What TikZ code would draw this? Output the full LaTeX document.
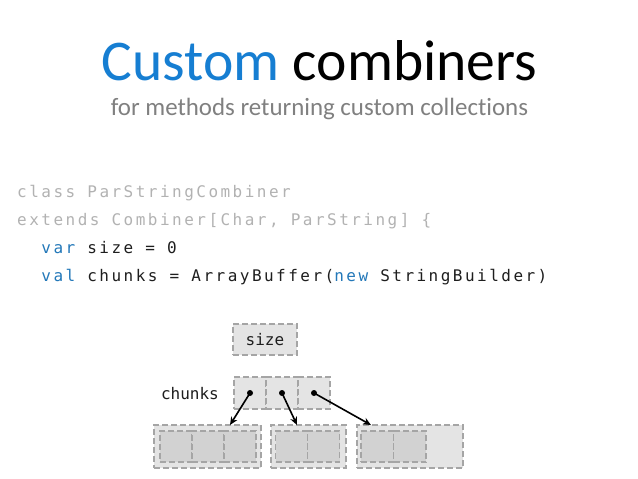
\documentclass[tikz,border=0pt]{standalone}
\usepackage{fontspec}
\setmainfont{Carlito}[Ligatures=NoCommon]
\newfontfamily\codefont{DejaVu Sans Mono}[LetterSpace=15.5]
\newfontfamily\diagfont{DejaVu Sans Mono}
\usetikzlibrary{arrows.meta}
\definecolor{titleblue}{RGB}{22,126,210}
\definecolor{subgray}{RGB}{128,128,128}
\definecolor{codegray}{RGB}{178,178,178}
\definecolor{kwblue}{RGB}{35,120,185}
\definecolor{codeblack}{RGB}{30,30,30}
\definecolor{boxfill}{RGB}{228,228,228}
\definecolor{cellfill}{RGB}{210,210,210}
\definecolor{dashgray}{RGB}{165,165,165}
\tikzset{
  dbox/.style={draw=dashgray, line width=1.6pt, dash pattern=on 6pt off 3pt, inner sep=0pt, outer sep=0pt},
  cellbox/.style={dbox, fill=boxfill, minimum width=32pt, minimum height=32pt},
  outerbox/.style={dbox, fill=boxfill, minimum height=43pt},
  innercell/.style={dbox, fill=cellfill, minimum width=32pt, minimum height=31pt},
  codeline/.style={anchor=base west, inner sep=0pt, font=\codefont\fontsize{16}{16}\selectfont},
  diagtext/.style={font=\diagfont\fontsize{16}{16}\selectfont, text=codeblack},
  ptr/.style={-{Stealth[length=8pt,width=7pt]}, line width=1.6pt, black},
  dotc/.style={circle, fill=black, inner sep=0pt, minimum size=6pt}
}
\begin{document}
\begin{tikzpicture}[x=1pt,y=-1pt]
\useasboundingbox[fill=white] (0,0) rectangle (638,479);
% title
\node[anchor=base, inner sep=0pt, font=\fontsize{57.6}{57.6}\selectfont] (title) at (319.5,80) {\textcolor{titleblue}{Custom} combiners};
\node[anchor=base, inner sep=0pt, text=subgray, font=\fontsize{24.9}{24.9}\selectfont] (sub) at (319.5,115.5) {for methods returning custom collections};
% code
\node[codeline, text=codegray] (l1) at (17,197.7) {class ParStringCombiner};
\node[codeline, text=codegray] (l2) at (17,225.7) {extends Combiner[Char, ParString] \{};
\node[codeline, text=codeblack] (l3) at (17,253.7) {\ \ \textcolor{kwblue}{var} size = 0};
\node[codeline, text=codeblack] (l4) at (17,281.7) {\ \ \textcolor{kwblue}{val} chunks = ArrayBuffer(\textcolor{kwblue}{new} StringBuilder)};
% size box
\node[dbox, fill=boxfill, minimum width=64pt, minimum height=31pt, diagtext] (size) at (265,339.5) {size};
% chunks array
\node[cellbox] (c1) at (250,393) {};
\node[cellbox] (c2) at (282,393) {};
\node[cellbox] (c3) at (314,393) {};
\node[anchor=east, inner sep=0pt, diagtext] (chl) at (219,394) {chunks};
% bottom builders
\node[outerbox, minimum width=107pt] (b1) at (207.5,446.5) {};
\node[outerbox, minimum width=75pt] (b2) at (308.5,446.5) {};
\node[outerbox, minimum width=106pt] (b3) at (410,446.5) {};
\node[innercell] (b1a) at (176,446.5) {};
\node[innercell] (b1b) at (208,446.5) {};
\node[innercell] (b1c) at (240,446.5) {};
\node[innercell] (b2a) at (291.5,446.5) {};
\node[innercell] (b2b) at (323.5,446.5) {};
\node[innercell, minimum width=32.5pt] (b3a) at (377.25,446.5) {};
\node[innercell, minimum width=32.5pt] (b3b) at (409.75,446.5) {};
% pointers
\node[dotc] (d1) at (c1.center) {};
\node[dotc] (d2) at (c2.center) {};
\node[dotc] (d3) at (c3.center) {};
\coordinate (e1) at (230,425);
\coordinate (e2) at (297,425);
\coordinate (e3) at (371,425);
\draw[ptr] (d1.center) -- (e1);
\draw[ptr] (d2.center) -- (e2);
\draw[ptr] (d3.center) -- (e3);
\end{tikzpicture}
\end{document}
